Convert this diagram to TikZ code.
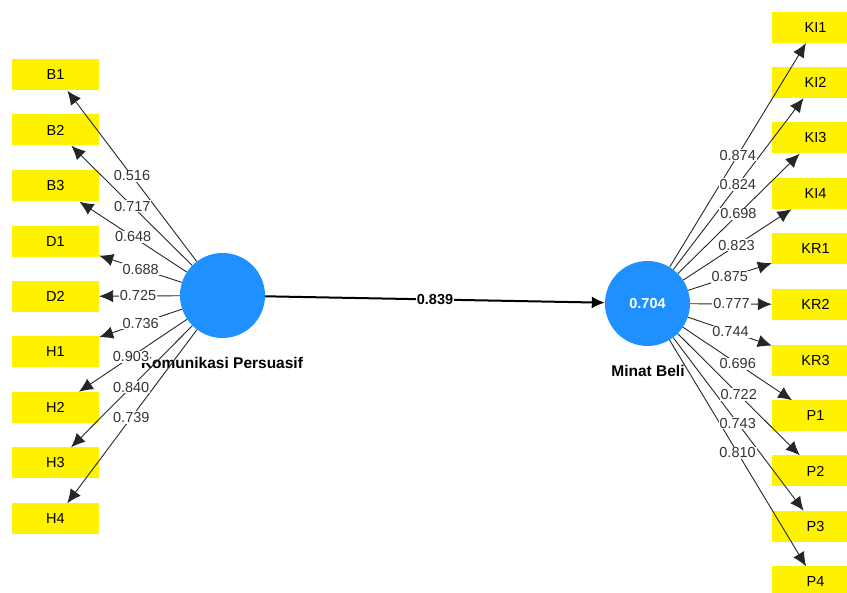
\documentclass[tikz,border=0pt]{standalone}
\usepackage{fontspec}
\setmainfont{Liberation Sans}
\usetikzlibrary{arrows.meta,calc}
\definecolor{lvblue}{RGB}{30,144,255}
\definecolor{numgray}{RGB}{51,51,51}
\begin{document}
\begin{tikzpicture}[x=1pt,y=-1pt,
  every node/.style={font=\fontsize{14.5}{16}\selectfont},
  ind/.style={fill=yellow,minimum width=87,minimum height=31,inner sep=0pt},
  lv/.style={circle,fill=lvblue,minimum size=85,inner sep=0pt},
  wt/.style={fill=white,inner sep=1pt,text=numgray},
  ld/.style={black!85,line width=0.9pt,-{Latex[length=14pt,width=12.5pt]}}]
  \useasboundingbox (0,0) rectangle (847,593);
  % latent variables
  \node [font=\bfseries\fontsize{15.5}{17}\selectfont] (kpname) at (222,363) {Komunikasi Persuasif};
  \node [font=\bfseries\fontsize{15.5}{17}\selectfont] (mbname) at (648,371) {Minat Beli};
  \node [lv] (kp) at (222.5,295.5) {};
  \node [lv,text=white,font=\bfseries\fontsize{14.5}{16}\selectfont] (mb) at (647.5,303.5) {0.704};
  % indicators left
  \node [ind] (b1) at (55.5,75) {B1};
  \node [ind] (b2) at (55.5,130) {B2};
  \node [ind] (b3) at (55.5,186) {B3};
  \node [ind] (d1) at (55.5,241.5) {D1};
  \node [ind] (d2) at (55.5,296.5) {D2};
  \node [ind] (h1) at (55.5,352) {H1};
  \node [ind] (h2) at (55.5,407.5) {H2};
  \node [ind] (h3) at (55.5,463) {H3};
  \node [ind] (h4) at (55.5,519) {H4};
  % indicators right
  \node [ind] (ki1) at (815.5,27.5) {KI1};
  \node [ind] (ki2) at (815.5,82.5) {KI2};
  \node [ind] (ki3) at (815.5,138) {KI3};
  \node [ind] (ki4) at (815.5,193.5) {KI4};
  \node [ind] (kr1) at (815.5,249) {KR1};
  \node [ind] (kr2) at (815.5,304.5) {KR2};
  \node [ind] (kr3) at (815.5,360.5) {KR3};
  \node [ind] (p1) at (815.5,416) {P1};
  \node [ind] (p2) at (815.5,471) {P2};
  \node [ind] (p3) at (815.5,526.5) {P3};
  \node [ind] (p4) at (815.5,582) {P4};
  % loadings
  \draw [ld] (kp) -- (b1);
  \draw [ld] (kp) -- (b2);
  \draw [ld] (kp) -- (b3);
  \draw [ld] (kp) -- (d1);
  \draw [ld] (kp) -- (d2);
  \draw [ld] (kp) -- (h1);
  \draw [ld] (kp) -- (h2);
  \draw [ld] (kp) -- (h3);
  \draw [ld] (kp) -- (h4);
  \draw [ld] (mb) -- (ki1);
  \draw [ld] (mb) -- (ki2);
  \draw [ld] (mb) -- (ki3);
  \draw [ld] (mb) -- (ki4);
  \draw [ld] (mb) -- (kr1);
  \draw [ld] (mb) -- (kr2);
  \draw [ld] (mb) -- (kr3);
  \draw [ld] (mb) -- (p1);
  \draw [ld] (mb) -- (p2);
  \draw [ld] (mb) -- (p3);
  \draw [ld] (mb) -- (p4);
  \node [wt] (wb1) at ($(kp)!0.542!(b1)$) {0.516};
  \node [wt] (wb2) at ($(kp)!0.54!(b2)$) {0.717};
  \node [wt] (wb3) at ($(kp)!0.535!(b3)$) {0.648};
  \node [wt] (wd1) at ($(kp)!0.49!(d1)$) {0.688};
  \node [wt] (wd2) at ($(kp)!0.506!(d2)$) {0.725};
  \node [wt] (wh1) at ($(kp)!0.49!(h1)$) {0.736};
  \node [wt] (wh2) at ($(kp)!0.548!(h2)$) {0.903};
  \node [wt] (wh3) at ($(kp)!0.547!(h3)$) {0.840};
  \node [wt] (wh4) at ($(kp)!0.546!(h4)$) {0.739};
  \node [wt] (wki1) at ($(mb)!0.537!(ki1)$) {0.874};
  \node [wt] (wki2) at ($(mb)!0.538!(ki2)$) {0.824};
  \node [wt] (wki3) at ($(mb)!0.541!(ki3)$) {0.698};
  \node [wt] (wki4) at ($(mb)!0.53!(ki4)$) {0.823};
  \node [wt] (wkr1) at ($(mb)!0.49!(kr1)$) {0.875};
  \node [wt] (wkr2) at ($(mb)!0.5!(kr2)$) {0.777};
  \node [wt] (wkr3) at ($(mb)!0.494!(kr3)$) {0.744};
  \node [wt] (wp1) at ($(mb)!0.537!(p1)$) {0.696};
  \node [wt] (wp2) at ($(mb)!0.543!(p2)$) {0.722};
  \node [wt] (wp3) at ($(mb)!0.537!(p3)$) {0.743};
  \node [wt] (wp4) at ($(mb)!0.536!(p4)$) {0.810};
  % path
  \draw [black,line width=2pt,-{Latex[length=13pt,width=12pt]}] (kp) -- (mb)
    node [midway,fill=white,inner sep=1pt,font=\bfseries\fontsize{14.5}{16}\selectfont] (wpath) {0.839};
\end{tikzpicture}
\end{document}
